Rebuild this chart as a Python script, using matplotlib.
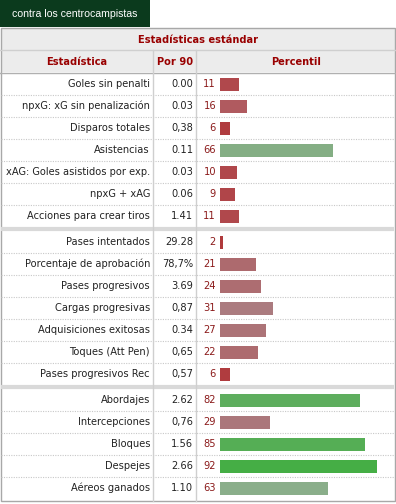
import matplotlib.pyplot as plt

# data
stat_labels = [
    "Goles sin penalti", "npxG: xG sin penalización", "Disparos totales",
    "Asistencias", "xAG: Goles asistidos por exp.", "npxG + xAG",
    "Acciones para crear tiros",
    "Pases intentados", "Porcentaje de aprobación", "Pases progresivos",
    "Cargas progresivas", "Adquisiciones exitosas", "Toques (Att Pen)",
    "Pases progresivos Rec",
    "Abordajes", "Intercepciones", "Bloques", "Despejes", "Aéreos ganados",
]
per90 = [
    "0.00", "0.03", "0,38", "0.11", "0.03", "0.06", "1.41",
    "29.28", "78,7%", "3.69", "0,87", "0.34", "0,65", "0,57",
    "2.62", "0,76", "1.56", "2.66", "1.10",
]
percentiles = [11, 16, 6, 66, 10, 9, 11,
               2, 21, 24, 31, 27, 22, 6,
               82, 29, 85, 92, 63]
section_sizes = [7, 7, 5]

bar_colors = [
    "#b0484c", "#b05a5f", "#b03c3f", "#84ae84", "#b0474b", "#b04549", "#b0484c",
    "#b03a3c", "#ad6a6e", "#ad6d71", "#ab7b7f", "#ac7377", "#ad6b6f", "#b03c3f",
    "#5eae5e", "#ab777b", "#55ae55", "#45ae45", "#8aae8a",
]

W, H = 396, 504
fig = plt.figure(figsize=(W / 100, H / 100), dpi=100)
ax = fig.add_axes([0, 0, 1, 1])
ax.set_xlim(0, W)
ax.set_ylim(H, 0)
ax.axis("off")

dark_red = "#990000"
grid_gray = "#cfcfcf"
font = "DejaVu Sans"
fs = 7.1

# tab
ax.add_patch(plt.Rectangle((0, 0), 150, 27, color="#0b3a1d", lw=0))
ax.text(75, 14, "contra los centrocampistas", color="white", ha="center",
        va="center", fontsize=7.6, family="Liberation Sans")

# header rows
ax.add_patch(plt.Rectangle((0.5, 28), 394, 44, facecolor="#ececec",
                           edgecolor="none"))
ax.text(198, 40, "Estadísticas estándar", color=dark_red, ha="center",
        va="center", fontsize=fs, fontweight="bold", family=font)
ax.text(77, 62, "Estadística", color=dark_red, ha="center", va="center",
        fontsize=fs, fontweight="bold", family=font)
ax.text(175, 62, "Por 90", color=dark_red, ha="center", va="center",
        fontsize=fs, fontweight="bold", family=font)
ax.text(296, 62, "Percentil", color=dark_red, ha="center", va="center",
        fontsize=fs, fontweight="bold", family=font)
ax.plot([0, 395], [50, 50], color=grid_gray, lw=1)
ax.plot([0, 395], [72.5, 72.5], color="#b0b0b0", lw=1)

# row positions
row_h = 22
sep = 4
centers = []
seps = []
top = 73
for k, n in enumerate(section_sizes):
    for i in range(n):
        centers.append(top + row_h * i + row_h / 2)
    top += row_h * n
    if k < len(section_sizes) - 1:
        seps.append(top + 1.5)
        top += sep

for i, y in enumerate(centers):
    ax.text(150, y, stat_labels[i], ha="right", va="center", fontsize=fs,
            color="#222222", family=font)
    ax.text(193, y, per90[i], ha="right", va="center", fontsize=fs,
            color="#222222", family=font)
    ax.text(216, y, str(percentiles[i]), ha="right", va="center",
            fontsize=fs, color="#8b1a1a", family=font)
    if i + 1 < len(centers) and centers[i + 1] - y == row_h:
        ax.plot([1, 394], [y + row_h / 2] * 2, color="#c8c8c8", lw=0.8,
                ls=(0, (1, 1.2)))

for y in seps:
    ax.plot([1, 394], [y, y], color="#d9d9d9", lw=3, solid_capstyle="butt")

# column lines
ax.plot([153, 153], [50, 501], color=grid_gray, lw=1)
ax.plot([196, 196], [50, 501], color=grid_gray, lw=1)

# outer border
ax.add_patch(plt.Rectangle((0.5, 28), 394, 473, facecolor="none",
                           edgecolor="#a8a8a8", lw=1))

# bars on their own percentile scale
bx = fig.add_axes([220 / W, 0, 171 / W, 1])
bx.set_xlim(0, 100)
bx.set_ylim(H, 0)
bx.axis("off")
bx.barh(centers, percentiles, height=13, color=bar_colors, left=0)

fig.savefig("out.png", dpi=100)
